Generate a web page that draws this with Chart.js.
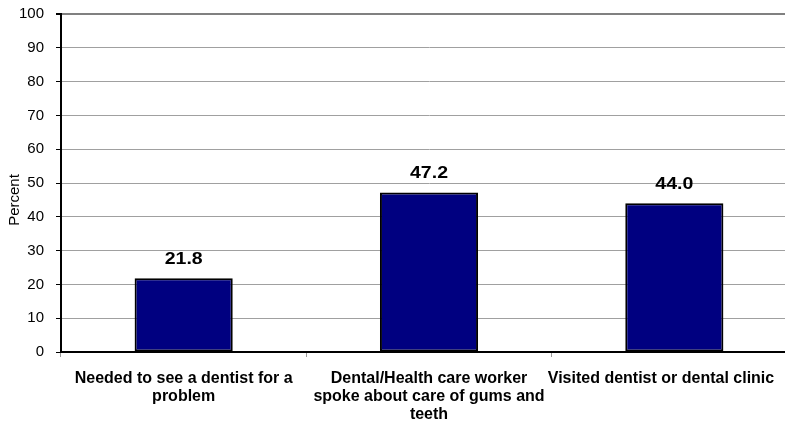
<!DOCTYPE html>
<html><head><meta charset="utf-8">
<script src="https://cdn.jsdelivr.net/npm/chart.js@4"></script>
<style>
html,body{margin:0;padding:0;background:#fff;overflow:hidden;width:785px;height:423px;}
#wrap{width:797px;height:423px;position:relative;}
</style></head>
<body><div id="wrap"><canvas id="c" width="797" height="423"></canvas></div>
<script>
const categories = [
  ["Needed to see a dentist for a", "problem"],
  ["Dental/Health care worker", "spoke about care of gums and", "teeth"],
  ["Visited dentist or dental clinic"]
];
const percentValues = [21.8, 47.2, 44.0];
const yTickValues = [0,10,20,30,40,50,60,70,80,90,100];
const yAxisTitle = "Percent";

const FONT = '"Liberation Sans", Arial, sans-serif';

const extraText = {
  id: 'extraText',
  afterDatasetsDraw(chart) {
    const ctx = chart.ctx;
    const meta = chart.getDatasetMeta(0);
    ctx.save();
    ctx.font = 'bold 16px ' + FONT;
    ctx.fillStyle = '#000';
    ctx.textAlign = 'center';
    ctx.textBaseline = 'alphabetic';
    meta.data.forEach((bar, i) => {
      ctx.save();
      ctx.translate(bar.x, bar.y - 14);
      ctx.scale(1.22, 1);
      ctx.fillText(percentValues[i].toFixed(1), 0, 0);
      ctx.restore();
    });
    ctx.restore();
    ctx.save();
    ctx.font = '15px ' + FONT;
    ctx.fillStyle = '#000';
    ctx.textAlign = 'center';
    ctx.textBaseline = 'middle';
    ctx.translate(15, 200);
    ctx.rotate(-Math.PI / 2);
    ctx.fillText(yAxisTitle, 0, 0);
    ctx.restore();
  }
};

new Chart(document.getElementById('c'), {
  type: 'bar',
  data: {
    labels: categories,
    datasets: [{
      data: percentValues,
      backgroundColor: '#000080',
      borderColor: '#000000',
      borderWidth: 2,
      borderSkipped: false,
      barPercentage: 0.8,
      categoryPercentage: 0.5
    }]
  },
  options: {
    responsive: false,
    animation: false,
    layout: { padding: { top: 14, right: 0, left: 0, bottom: 0 } },
    plugins: { legend: { display: false }, tooltip: { enabled: false } },
    scales: {
      x: {
        grid: { offset: true, drawOnChartArea: false, drawTicks: true, tickLength: 5, color: '#999' },
        border: { color: '#000', width: 2 },
        ticks: {
          color: '#000', padding: 13, maxRotation: 0, autoSkip: false,
          font: { family: FONT, size: 16, weight: 'bold', lineHeight: '18px' },
          callback(value, index) {
            const lbl = categories[index];
            return index === categories.length - 1 ? lbl.map(s => s + '      ') : lbl;
          }
        },
        afterFit(scale) { scale.height = 71; scale.paddingLeft = 0; scale.paddingRight = 0; }
      },
      y: {
        min: 0, max: 100,
        afterBuildTicks(scale) { scale.ticks = yTickValues.map(v => ({ value: v })); },
        grid: {
          color: ctx => (ctx.tick && ctx.tick.value === 100) ? '#808080' : '#a0a0a0',
          lineWidth: ctx => (ctx.tick && ctx.tick.value === 100) ? 2 : 1,
          tickLength: 5, drawTicks: true, tickColor: '#000'
        },
        border: { color: '#000', width: 2 },
        ticks: {
          color: '#000', padding: 12,
          font: { family: FONT, size: 15 }
        },
        afterFit(scale) { scale.width = 61; scale.paddingTop = 0; scale.paddingBottom = 0; }
      }
    }
  },
  plugins: [extraText]
});
</script>
</body></html>
